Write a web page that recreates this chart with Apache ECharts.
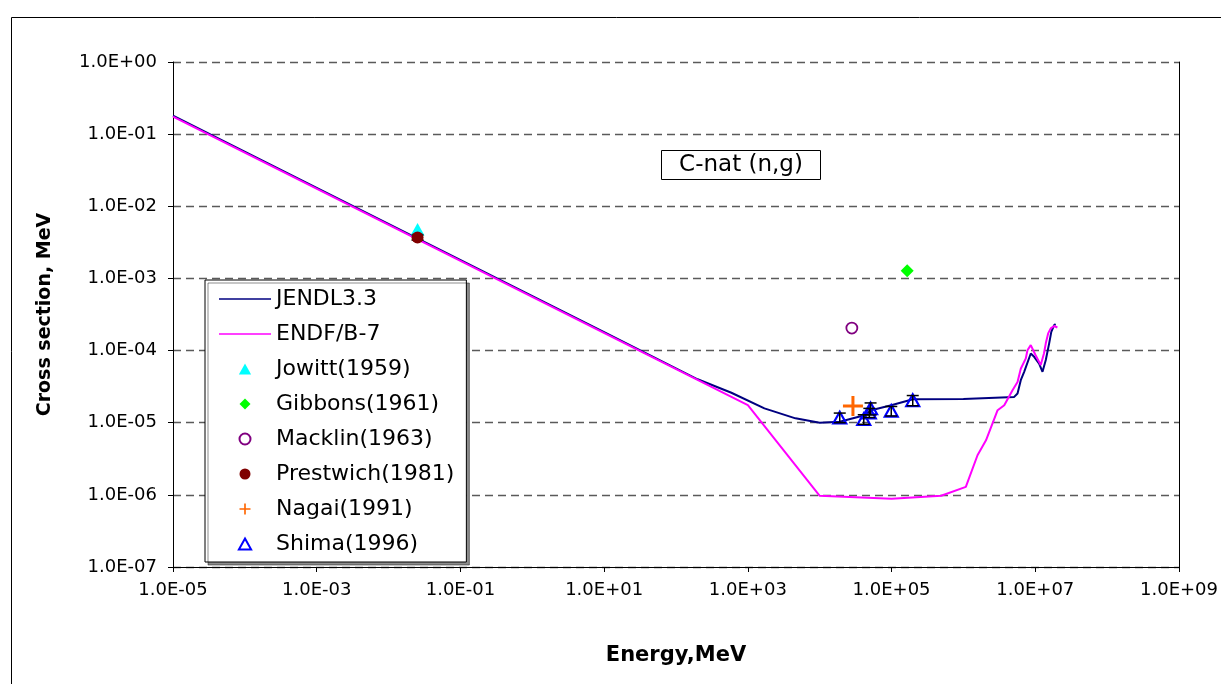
<!DOCTYPE html>
<html>
<head>
<meta charset="utf-8">
<title>C-nat (n,g)</title>
<script src="https://cdn.jsdelivr.net/npm/echarts@6/dist/echarts.min.js"></script>
<style>
  html, body { margin: 0; padding: 0; background: #fff; }
  #chart { width: 1221px; height: 684px; }
</style>
</head>
<body>
<div id="chart"></div>
<script>
// Evaluated capture cross sections (energy, cross section)
const jendlE = [1e-5, 1e-3, 1e1, 2.0e2, 5.9e2, 1.7e3, 4.6e3, 1.0e4, 1.9e4, 4.2e4, 5.2e4, 9.9e4, 1.98e5,
  1.0e6, 5.09e6, 5.66e6, 6.28e6, 7.0e6, 8.65e6, 9.64e6, 1.13e7, 1.26e7, 1.40e7, 1.56e7, 1.67e7, 1.83e7, 1.92e7];
const jendlXS = [0.18, 1.8e-2, 1.8e-4, 4.0e-5, 2.6e-5, 1.58e-5, 1.15e-5, 1.0e-5, 1.03e-5, 1.27e-5, 1.49e-5, 1.75e-5, 2.12e-5,
  2.14e-5, 2.28e-5, 2.54e-5, 3.89e-5, 5.07e-5, 9.1e-5, 8.2e-5, 6.6e-5, 5.07e-5, 7.4e-5, 1.26e-4, 1.82e-4, 2.25e-4, 2.32e-4];

const endfE = [1e-5, 1e3, 1.0e4, 1.0e5, 4.9e5, 1.08e6, 1.57e6, 2.06e6, 2.99e6, 3.70e6, 4.82e6, 5.66e6, 6.28e6,
  7.38e6, 7.78e6, 8.65e6, 1.01e7, 1.19e7, 1.32e7, 1.40e7, 1.51e7, 1.64e7, 1.83e7, 2.03e7];
const endfXS = [0.175, 1.75e-5, 9.7e-7, 8.8e-7, 9.7e-7, 1.29e-6, 3.54e-6, 5.7e-6, 1.49e-5, 1.75e-5, 2.82e-5, 3.68e-5, 5.6e-5,
  7.8e-5, 1.01e-4, 1.19e-4, 8.6e-5, 6.3e-5, 9.1e-5, 1.26e-4, 1.73e-4, 2.03e-4, 2.19e-4, 2.09e-4];

// Measurements
const jowittE = [0.0253], jowittXS = [4.8e-3];
const gibbonsE = [1.65e5], gibbonsXS = [1.28e-3];
const macklinE = [2.8e4], macklinXS = [2.05e-4];
const prestwichE = [0.0253], prestwichXS = [3.7e-3], prestwichErr = [0.3e-3];
const nagaiE = [2.9e4], nagaiXS = [1.7e-5];
const shimaE = [1.9e4, 4.1e4, 4.9e4, 5.1e4, 9.9e4, 1.97e5];
const shimaXS = [1.18e-5, 1.12e-5, 1.38e-5, 1.58e-5, 1.46e-5, 2.05e-5];
const shimaErr = [1.8e-6, 1.7e-6, 2.0e-6, 3.0e-6, 2.2e-6, 3.3e-6];

// Axis ranges (decades)
const xMinExp = -5, xMaxExp = 9;
const yMinExp = -7, yMaxExp = 0;

const FONT = 'DejaVu Sans';

// x is plotted as decades above 1E-05 so that every 2nd decade gets a tick
const lx = e => Math.log10(e) - xMinExp;
const expLabel = p => '1.0E' + (p < 0 ? '-' : '+') + String(Math.abs(p)).padStart(2, '0');

const pairs = (xs, ys) => xs.map((e, i) => [lx(e), ys[i]]);
const errRows = (xs, ys, es) => xs.map((e, i) => [lx(e), ys[i] - es[i], ys[i] + es[i]]);

const errorBar = (name, data) => ({
  type: 'custom',
  name: name,
  data: data,
  z: 5,
  silent: true,
  encode: { x: 0, y: [1, 2] },
  renderItem: function (params, api) {
    const x = api.value(0);
    const lo = api.coord([x, api.value(1)]);
    const hi = api.coord([x, api.value(2)]);
    const half = 6;
    const st = { stroke: '#000', lineWidth: 1.5, fill: null };
    return {
      type: 'group',
      children: [
        { type: 'line', shape: { x1: lo[0], y1: lo[1], x2: hi[0], y2: hi[1] }, style: st },
        { type: 'line', shape: { x1: lo[0] - half, y1: lo[1], x2: lo[0] + half, y2: lo[1] }, style: st },
        { type: 'line', shape: { x1: hi[0] - half, y1: hi[1], x2: hi[0] + half, y2: hi[1] }, style: st }
      ]
    };
  }
});

// Marker shapes
const plusPath = 'path://M8.5,0H11.5V8.5H20V11.5H11.5V20H8.5V11.5H0V8.5H8.5Z';
const triPath = 'path://M5,0L10,9H0Z';
const diamondPath = 'path://M5,0L10,5L5,10L0,5Z';
const lineIcon = 'path://M0,0H52V1.6H0Z';

const chart = echarts.init(document.getElementById('chart'), null, { renderer: 'canvas' });

chart.setOption({
  animation: false,
  backgroundColor: '#fff',
  textStyle: { fontFamily: FONT },
  grid: { left: 173, top: 62, right: 39, bottom: 117, containLabel: false },
  xAxis: {
    type: 'value',
    min: 0,
    max: xMaxExp - xMinExp,
    interval: 2,
    name: 'Energy,MeV',
    nameLocation: 'middle',
    nameGap: 78,
    nameTextStyle: { fontFamily: FONT, fontSize: 21, fontWeight: 'bold', color: '#000' },
    axisLine: { show: true, lineStyle: { color: '#000', width: 1 } },
    axisTick: { show: true, inside: false, length: 5, lineStyle: { color: '#000' } },
    axisLabel: {
      margin: 14, fontSize: 18, color: '#000', fontFamily: FONT,
      formatter: v => expLabel(Math.round(v) + xMinExp)
    },
    splitLine: { show: false }
  },
  yAxis: [{
    type: 'log',
    logBase: 10,
    min: Math.pow(10, yMinExp),
    max: Math.pow(10, yMaxExp),
    interval: 1,
    splitNumber: 7,
    name: 'Cross section, MeV',
    nameLocation: 'middle',
    nameRotate: 90,
    nameGap: 118,
    nameTextStyle: { fontFamily: FONT, fontSize: 19, fontWeight: 'bold', color: '#000' },
    axisLine: { show: true, lineStyle: { color: '#000', width: 1 } },
    axisTick: { show: true, inside: false, length: 5, lineStyle: { color: '#000' } },
    axisLabel: {
      margin: 16, fontSize: 18, color: '#000', fontFamily: FONT,
      formatter: v => expLabel(Math.round(Math.log10(v)))
    },
    splitLine: { show: true, lineStyle: { color: '#5a5a5a', width: 1.3, type: [8, 5] } },
    minorTick: { show: false }
  }, {
    type: 'log',
    logBase: 10,
    position: 'right',
    min: Math.pow(10, yMinExp),
    max: Math.pow(10, yMaxExp),
    axisLine: { show: true, onZero: false, lineStyle: { color: '#000', width: 1 } },
    axisTick: { show: false },
    axisLabel: { show: false },
    splitLine: { show: false }
  }],
  legend: {
    orient: 'vertical',
    left: 205,
    top: 280,
    padding: [8, 12, 7, 14],
    itemWidth: 52,
    itemHeight: 11,
    itemGap: 13,
    symbolKeepAspect: true,
    backgroundColor: '#fff',
    borderColor: '#000',
    borderWidth: 1,
    shadowColor: 'rgba(0,0,0,0.45)',
    shadowBlur: 0,
    shadowOffsetX: 3,
    shadowOffsetY: 3,
    textStyle: { fontFamily: FONT, fontSize: 22, lineHeight: 22, color: '#000' },
    data: [
      { name: 'JENDL3.3', icon: lineIcon },
      { name: 'ENDF/B-7', icon: lineIcon },
      { name: 'Jowitt(1959)', icon: triPath },
      { name: 'Gibbons(1961)', icon: diamondPath },
      { name: 'Macklin(1963)', icon: 'circle' },
      { name: 'Prestwich(1981)', icon: 'circle' },
      { name: 'Nagai(1991)', icon: plusPath },
      { name: 'Shima(1996)', icon: triPath }
    ]
  },
  graphic: [
    {
      type: 'rect', left: 9, top: 15, silent: true,
      shape: { width: 1240, height: 700 },
      style: { fill: null, stroke: '#000', lineWidth: 1 }
    },
    {
      type: 'group', left: 661, top: 150,
      children: [
        { type: 'rect', shape: { x: 0, y: 0, width: 159, height: 29 },
          style: { fill: '#fff', stroke: '#000', lineWidth: 1 } },
        { type: 'text', x: 79.5, y: 15,
          style: { text: 'C-nat (n,g)', fontFamily: FONT, fontSize: 23, fill: '#000',
            align: 'center', verticalAlign: 'middle' } }
      ]
    }
  ],
  series: [
    {
      name: 'JENDL3.3', type: 'line', data: pairs(jendlE, jendlXS),
      symbol: 'none', z: 2,
      lineStyle: { color: '#000080', width: 2 }, itemStyle: { color: '#000080' }
    },
    {
      name: 'ENDF/B-7', type: 'line', data: pairs(endfE, endfXS),
      symbol: 'none', z: 3,
      lineStyle: { color: '#ff00ff', width: 2 }, itemStyle: { color: '#ff00ff' }
    },
    {
      name: 'Jowitt(1959)', type: 'scatter', data: pairs(jowittE, jowittXS),
      symbol: triPath, symbolSize: 14, symbolKeepAspect: true, z: 4,
      itemStyle: { color: '#00ffff', opacity: 1 }
    },
    {
      name: 'Gibbons(1961)', type: 'scatter', data: pairs(gibbonsE, gibbonsXS),
      symbol: diamondPath, symbolSize: 13, symbolKeepAspect: true, z: 4,
      itemStyle: { color: '#00ff00', opacity: 1 }
    },
    {
      name: 'Macklin(1963)', type: 'scatter', data: pairs(macklinE, macklinXS),
      symbol: 'circle', symbolSize: 11, z: 4,
      itemStyle: { color: 'rgba(255,255,255,0)', borderColor: '#800080', borderWidth: 1.8, opacity: 1 }
    },
    errorBar('Prestwich err', errRows(prestwichE, prestwichXS, prestwichErr)),
    {
      name: 'Prestwich(1981)', type: 'scatter', data: pairs(prestwichE, prestwichXS),
      symbol: 'circle', symbolSize: 12, z: 6,
      itemStyle: { color: '#800000', opacity: 1 }
    },
    {
      name: 'Nagai(1991)', type: 'scatter', data: pairs(nagaiE, nagaiXS),
      symbol: plusPath, symbolSize: 20, symbolKeepAspect: true, z: 4,
      itemStyle: { color: '#ff6600', opacity: 1 }
    },
    {
      name: 'Shima(1996)', type: 'scatter', data: pairs(shimaE, shimaXS),
      symbol: triPath, symbolSize: 13, symbolKeepAspect: true, z: 4,
      itemStyle: { color: 'rgba(255,255,255,0)', borderColor: '#0000ff', borderWidth: 2.2, opacity: 1 }
    },
    errorBar('Shima err', errRows(shimaE, shimaXS, shimaErr))
  ]
});
</script>
</body>
</html>
